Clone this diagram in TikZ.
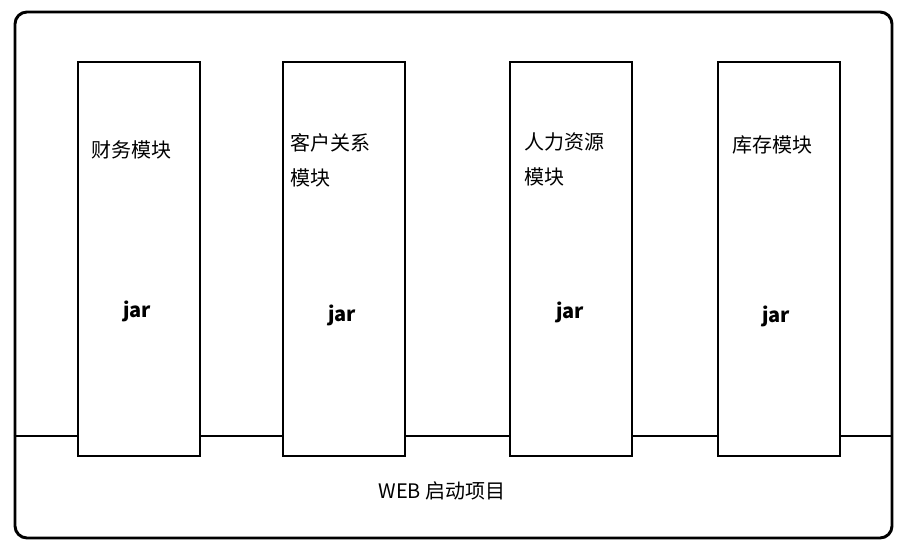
\documentclass[tikz,border=0pt]{standalone}
\usepackage{fontspec}
\setmainfont{Noto Sans CJK SC}
\usetikzlibrary{positioning}

\begin{document}
\begin{tikzpicture}[
    x=0.75pt, y=-0.75pt,%1 unit = 1 pixel of the reference
    line width=2.2pt,
    webbox/.style={
        rectangle,
        rounded corners=9pt,
        draw = black,
        minimum width = 657.75pt,
        minimum height = 394.5pt
      },
    module/.style={
        rectangle, % shape
        draw = black,
        fill = white,
        minimum width = 91.5pt, %size
        minimum height = 295.5pt
      },
    modname/.style={
        anchor = west,
        align = left,
        inner sep = 0pt,
        font = \fontsize{15}{26}\selectfont
      },
    jarname/.style={
        inner sep = 0pt,
        font = \fontsize{15}{18}\selectfont\bfseries
      }
  ]
  \useasboundingbox (0,0) rectangle (907,548);
  % outer WEB project
  \node (web) [webbox] at (453.5,275) {};
  \coordinate (sepL) at (web.west |- 0,436);
  \coordinate (sepR) at (web.east |- 0,436);
  \draw (sepL) -- (sepR);
  \node (weblabel) [modname, anchor=center] at (442,491) {WEB 启动项目};
  % the four modules
  \node (finance) [module] at (139,259) {};
  \node (crm) [module] at (344,259) {};
  \node (hr) [module] at (571,259) {};
  \node (stock) [module] at (779,259) {};
  \node (financename) [modname] at (90,150) {财务模块};
  \node (crmname) [modname] at (289,160.5) {客户关系\\模块};
  \node (hrname) [modname] at (523,159.5) {人力资源\\模块};
  \node (stockname) [modname] at (731,145) {库存模块};
  \node (financejar) [jarname] at (137,311) {jar};
  \node (crmjar) [jarname] at (342,315) {jar};
  \node (hrjar) [jarname] at (570,312) {jar};
  \node (stockjar) [jarname] at (776,316) {jar};
\end{tikzpicture}
\end{document}
